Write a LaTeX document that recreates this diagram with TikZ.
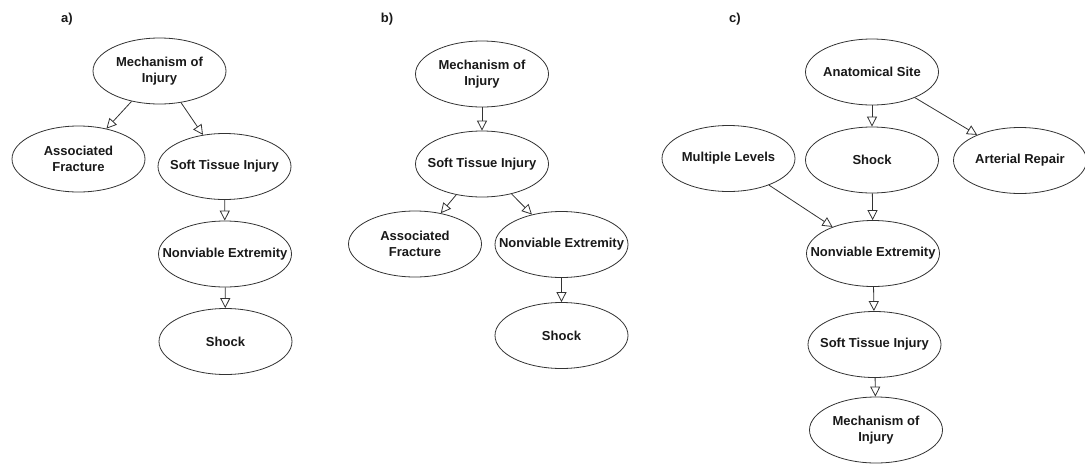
\documentclass[tikz,border=0pt]{standalone}
\usepackage{fontspec}
\setmainfont{Liberation Sans}
\usetikzlibrary{arrows.meta,shapes.geometric}
\tikzset{
  ell/.style={ellipse, draw=black!80, line width=0.8pt, fill=white, minimum width=133pt, minimum height=66pt, inner sep=0pt},
  txt/.style={font=\fontsize{13}{16}\selectfont\bfseries, align=center, text=black!90},
  lbl/.style={font=\fontsize{13}{15}\selectfont\bfseries, text=black!90},
  conn/.style={draw=black!80, line width=0.8pt, -{Triangle[open, length=10pt, width=10pt]}}
}
\newcommand{\en}[4]{\node[ell, label={[txt]center:{#4}}] (#1) at (#2,#3) {};}
\begin{document}
\begin{tikzpicture}[x=1pt,y=-1pt]
\useasboundingbox (0,0) rectangle (1085,464);
% panel a
\node[lbl] (la) at (67,19) {a)};
\en{am}{159.5}{71}{Mechanism of\\Injury}
\en{aa}{78.5}{159}{Associated\\Fracture}
\en{as}{224.5}{166.5}{Soft Tissue Injury}
\en{an}{225}{254}{Nonviable Extremity}
\en{ash}{225.5}{341.5}{Shock}
\draw[conn] (am) -- (aa);
\draw[conn] (am) -- (as);
\draw[conn] (as) -- (an);
\draw[conn] (an) -- (ash);
% panel b
\node[lbl] (lb) at (387,19) {b)};
\en{bm}{482}{74}{Mechanism of\\Injury}
\en{bs}{482}{164}{Soft Tissue Injury}
\en{ba}{415}{244}{Associated\\Fracture}
\en{bn}{561.5}{244.5}{Nonviable Extremity}
\en{bsh}{561.5}{335.5}{Shock}
\draw[conn] (bm) -- (bs);
\draw[conn] (bs) -- (ba);
\draw[conn] (bs) -- (bn);
\draw[conn] (bn) -- (bsh);
% panel c
\node[lbl] (lc) at (735,19) {c)};
\en{ca}{872}{72}{Anatomical Site}
\en{cml}{728.5}{158.5}{Multiple Levels}
\en{csh}{872}{160}{Shock}
\en{car}{1020}{160.5}{Arterial Repair}
\en{cn}{873}{253.5}{Nonviable Extremity}
\en{cs}{874.5}{344.5}{Soft Tissue Injury}
\en{cm}{876}{430}{Mechanism of\\Injury}
\draw[conn] (ca) -- (csh);
\draw[conn] (ca) -- (car);
\draw[conn] (cml) -- (cn);
\draw[conn] (csh) -- (cn);
\draw[conn] (cn) -- (cs);
\draw[conn] (cs) -- (cm);
\end{tikzpicture}
\end{document}
